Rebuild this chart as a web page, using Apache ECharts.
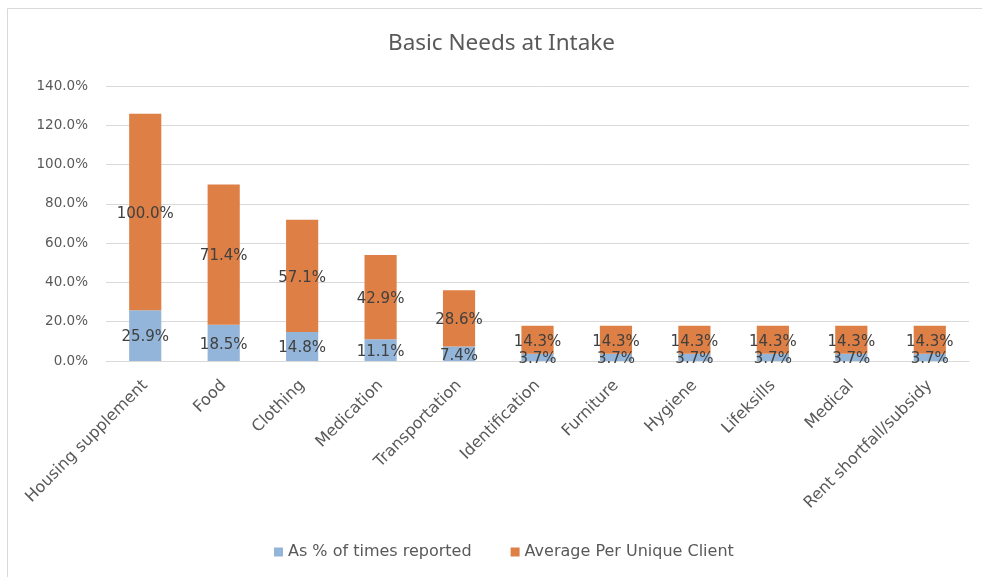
<!DOCTYPE html>
<html>
<head>
<meta charset="utf-8">
<script src="https://cdn.jsdelivr.net/npm/echarts@6/dist/echarts.min.js"></script>
<style>
  html, body { margin: 0; padding: 0; background: #fff; }
  #basicNeedsChart { width: 982px; height: 577px; }
</style>
</head>
<body>
<div id="basicNeedsChart"></div>
<script>
var categories = ['Housing supplement', 'Food', 'Clothing', 'Medication', 'Transportation',
  'Identification', 'Furniture', 'Hygiene', 'Lifeksills', 'Medical', 'Rent shortfall/subsidy'];
var timesReported = [25.9, 18.5, 14.8, 11.1, 7.4, 3.7, 3.7, 3.7, 3.7, 3.7, 3.7];
var perUniqueClient = [100.0, 71.4, 57.1, 42.9, 28.6, 14.3, 14.3, 14.3, 14.3, 14.3, 14.3];

var font = 'DejaVu Sans';
var pct = function (p) { return p.value.toFixed(1) + '%'; };

var option = {
  animation: false,
  textStyle: { fontFamily: font },
  title: {
    text: 'Basic Needs at Intake',
    left: 383,
    top: 27,
    textStyle: { fontFamily: 'Noto Sans', fontSize: 22.5, fontWeight: 'normal', color: '#595959' }
  },
  grid: { left: 106, right: 13, top: 86, bottom: 216 },
  xAxis: {
    type: 'category',
    data: categories,
    axisLine: { lineStyle: { color: '#d9d9d9' } },
    axisTick: { show: false },
    axisLabel: { rotate: 45, interval: 0, color: '#595959', fontFamily: font, fontSize: 16, margin: 22 }
  },
  yAxis: {
    type: 'value',
    min: 0,
    max: 140,
    interval: 20,
    axisLine: { show: false },
    axisTick: { show: false },
    splitLine: { lineStyle: { color: '#d9d9d9' } },
    axisLabel: {
      color: '#595959', fontFamily: font, fontSize: 13.5, margin: 18,
      formatter: function (v) { return v.toFixed(1) + '%'; }
    }
  },
  legend: {
    bottom: 12,
    left: 269,
    itemWidth: 9,
    itemHeight: 9,
    itemGap: 39,
    icon: 'rect',
    textStyle: { color: '#595959', fontFamily: font, fontSize: 16 }
  },
  series: [
    {
      name: 'As % of times reported',
      type: 'bar',
      stack: 'needs',
      barWidth: '41%',
      itemStyle: { color: '#93B5D9' },
      label: { show: true, position: 'inside', offset: [0, 2], formatter: pct, color: '#404040', fontFamily: font, fontSize: 15 },
      data: timesReported
    },
    {
      name: 'Average Per Unique Client',
      type: 'bar',
      stack: 'needs',
      itemStyle: { color: '#DE7F45' },
      label: { show: true, position: 'inside', offset: [0, 2], formatter: pct, color: '#404040', fontFamily: font, fontSize: 15 },
      data: perUniqueClient
    }
  ],
  graphic: [
    {
      type: 'polyline',
      shape: { points: [[7.5, 600], [7.5, 8.5], [1000, 8.5]] },
      style: { stroke: '#d9d9d9', lineWidth: 1, fill: null }
    }
  ]
};

var chart = echarts.init(document.getElementById('basicNeedsChart'));
chart.setOption(option);
</script>
</body>
</html>
